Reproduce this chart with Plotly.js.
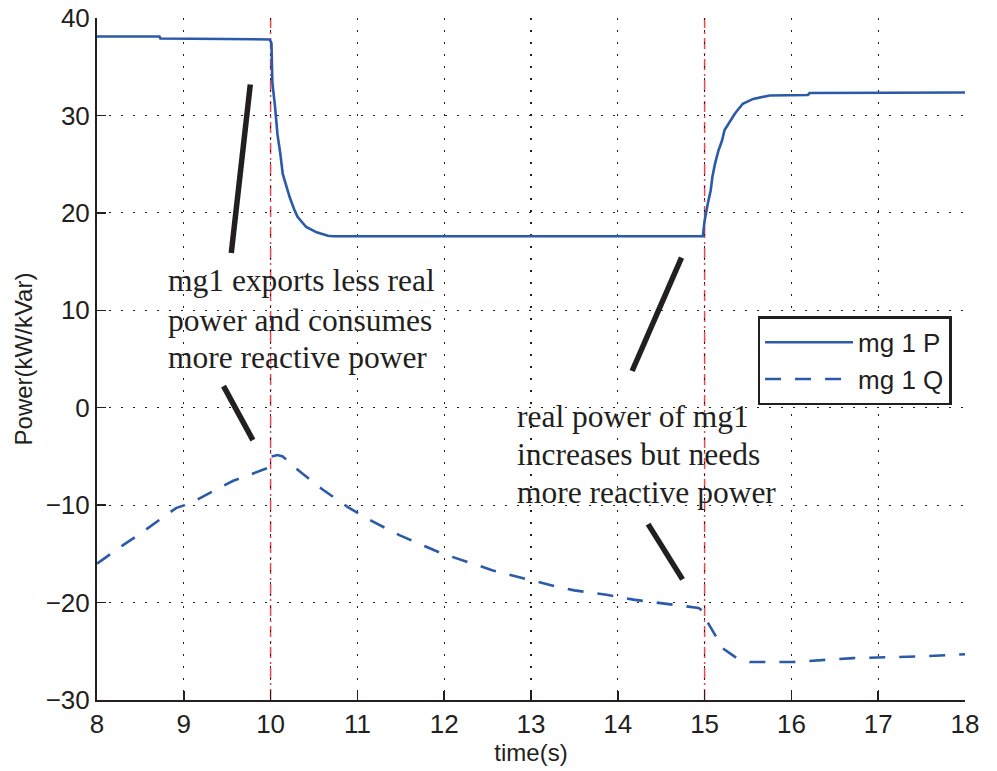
<!DOCTYPE html>
<html>
<head>
<meta charset="utf-8">
<script src="https://cdn.plot.ly/plotly-3.0.1.min.js"></script>
<style>html,body{margin:0;padding:0;background:#fff;}#chart{width:997px;height:771px;}</style>
</head>
<body>
<div id="chart"></div>
<script>
// ---- data ----
const timeP = [8, 8.72, 8.73, 9.99, 10.01, 10.02, 10.05, 10.08, 10.11, 10.14, 10.18, 10.22, 10.27, 10.31, 10.41, 10.53, 10.66, 10.72, 14.98, 15.0, 15.04, 15.07, 15.09, 15.12, 15.16, 15.2, 15.23, 15.29, 15.35, 15.44, 15.56, 15.75, 16.19, 16.21, 18];
const powerP = [38.1, 38.1, 37.9, 37.8, 37.4, 33.4, 31.0, 28.0, 26.2, 24.0, 22.8, 21.6, 20.4, 19.6, 18.55, 18.0, 17.65, 17.6, 17.6, 19.2, 21.1, 22.3, 23.7, 25.05, 26.4, 27.4, 28.5, 29.3, 30.2, 31.2, 31.7, 32.05, 32.1, 32.3, 32.35];

const timeQ = [8, 8.14, 8.3, 8.47, 8.62, 8.76, 8.91, 9.01, 9.14, 9.35, 9.57, 9.8, 9.99, 10.01, 10.08, 10.14, 10.24, 10.33, 10.6, 10.89, 11.18, 11.49, 11.8, 11.97, 12.26, 12.56, 12.91, 13.22, 13.5, 13.87, 14.18, 14.54, 14.93, 14.97, 15.02, 15.1, 15.21, 15.37, 15.52, 16.02, 16.41, 16.71, 17.17, 17.56, 18];
const powerQ = [-16.0, -15.1, -14.1, -13.1, -12.15, -11.2, -10.3, -10.0, -9.5, -8.5, -7.5, -6.75, -6.1, -5.0, -4.85, -5.0, -5.8, -6.5, -8.4, -10.2, -11.7, -13.1, -14.3, -14.95, -15.8, -16.7, -17.5, -18.2, -18.75, -19.2, -19.7, -20.1, -20.55, -20.8, -21.8, -23.0, -24.7, -25.7, -26.1, -26.1, -25.9, -25.7, -25.6, -25.5, -25.3];

const seriesNames = ['mg 1 P', 'mg 1 Q'];
const eventTimes = [10, 15];

const xTicks = [8, 9, 10, 11, 12, 13, 14, 15, 16, 17, 18];
const yTicks = [-30, -20, -10, 0, 10, 20, 30, 40];

const note1Lines = ['mg1 exports less real', 'power and consumes', 'more reactive power'];
const note1X = 8.80;
const note1Y = [13.1, 9.0, 5.2];
const note2Lines = ['real power of mg1', 'increases but needs', 'more reactive power'];
const note2X = 12.82;
const note2Y = [-0.95, -4.85, -8.75];

// pointer strokes [x0, y0, x1, y1] in data units
const pointers = [
  [9.766, 33.18, 9.547, 15.88],
  [9.458, 2.21, 9.796, -3.33],
  [14.734, 15.41, 14.165, 3.77],
  [14.349, -11.95, 14.746, -17.62]
];

// ---- figure ----
const blue = '#2a5aa8';
const traces = [
  {x: timeP, y: powerP, name: seriesNames[0], type: 'scatter', mode: 'lines',
   line: {color: blue, width: 2.6}},
  {x: timeQ, y: powerQ, name: seriesNames[1], type: 'scatter', mode: 'lines',
   line: {color: blue, width: 2.6, dash: '16px,14px'}}
];

const shapes = [];
eventTimes.forEach(t => shapes.push({
  type: 'line', xref: 'x', yref: 'paper', x0: t, x1: t, y0: 0, y1: 1,
  layer: 'below', line: {color: '#e8474f', width: 1.5, dash: '11px,4px,2px,4px'}
}));
pointers.forEach(p => shapes.push({
  type: 'line', xref: 'x', yref: 'y', x0: p[0], y0: p[1], x1: p[2], y1: p[3],
  line: {color: '#231f20', width: 5.5}
}));

const annFont = {family: '"Liberation Serif", "Times New Roman", serif', size: 31.5, color: '#231f20'};
const annotations = [];
note1Lines.forEach((s, i) => annotations.push({
  text: s, x: note1X, y: note1Y[i], xref: 'x', yref: 'y', xanchor: 'left', yanchor: 'middle',
  showarrow: false, font: annFont
}));
note2Lines.forEach((s, i) => annotations.push({
  text: s, x: note2X, y: note2Y[i], xref: 'x', yref: 'y', xanchor: 'left', yanchor: 'middle',
  showarrow: false, font: annFont
}));

const layout = {
  width: 997, height: 771,
  margin: {l: 97, r: 32, t: 18, b: 71, pad: 0},
  paper_bgcolor: '#fff', plot_bgcolor: '#fff',
  font: {family: '"Liberation Sans", Arial, sans-serif', color: '#231f20', size: 26},
  showlegend: true,
  legend: {
    x: 0.761, y: 0.5626, xanchor: 'left', yanchor: 'top',
    bgcolor: '#fff', bordercolor: '#231f20', borderwidth: 2.5,
    font: {size: 26, color: '#231f20'}, itemwidth: 88, tracegroupgap: 0
  },
  xaxis: {
    range: [8, 18], tickmode: 'array', tickvals: xTicks, ticktext: xTicks.map(String),
    showline: true, linecolor: '#231f20', linewidth: 2,
    ticks: 'inside', ticklen: 9, tickwidth: 1.5, tickcolor: '#231f20',
    showgrid: true, gridcolor: '#231f20', gridwidth: 1.2, griddash: '1.5px,10.5px',
    zeroline: false, mirror: false,
    title: {text: 'time(s)', font: {size: 24}, standoff: 4},
    tickfont: {size: 26}
  },
  yaxis: {
    range: [-30, 40], tickmode: 'array', tickvals: yTicks, ticktext: yTicks.map(v => v < 0 ? '\u2212' + Math.abs(v) : String(v)),
    showline: true, linecolor: '#231f20', linewidth: 2,
    ticks: 'inside', ticklen: 9, tickwidth: 1.5, tickcolor: '#231f20',
    showgrid: true, gridcolor: '#231f20', gridwidth: 1.2, griddash: '1.5px,10.5px',
    zeroline: false, mirror: false,
    title: {text: 'Power(kW/kVar)', font: {size: 24}, standoff: 6},
    tickfont: {size: 26}
  },
  shapes: shapes,
  annotations: annotations
};

Plotly.newPlot('chart', traces, layout, {displayModeBar: false, staticPlot: true});
</script>
</body>
</html>
